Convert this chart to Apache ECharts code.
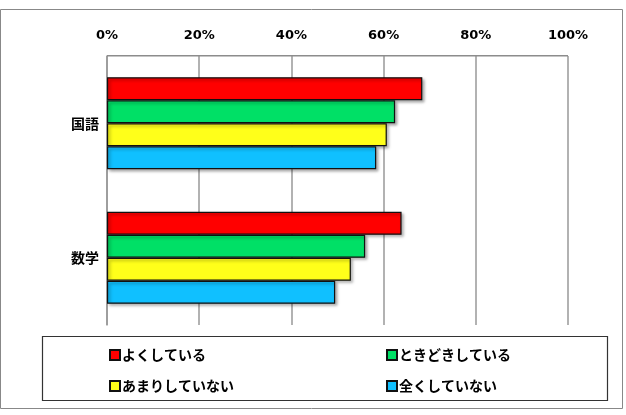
<!DOCTYPE html>
<html><head><meta charset="utf-8">
<script src="https://cdn.jsdelivr.net/npm/echarts@6/dist/echarts.min.js"></script>
<style>html,body{margin:0;padding:0;background:#fff}#c{width:626px;height:415px}</style>
</head><body><div id="c"></div>
<script>
var categories = ['国語', '数学'];
var seriesNames = ['よくしている', 'ときどきしている', 'あまりしていない', '全くしていない'];
var yoku = [68.4, 63.9];
var tokidoki = [62.5, 56.0];
var amari = [60.7, 52.9];
var mattaku = [58.4, 49.5];
var xTicks = [0, 20, 40, 60, 80, 100];
var colors = ['#FF0000', '#00E066', '#FFFF1A', '#10C0FF'];
var values = [yoku, tokidoki, amari, mattaku];

var chart = echarts.init(document.getElementById('c'));
var jp = '"Noto Sans CJK JP", sans-serif';
chart.setOption({
  animation: false,
  grid: {left: 107, right: 58, top: 56, bottom: 90, containLabel: false},
  xAxis: {
    type: 'value', position: 'top', min: xTicks[0], max: xTicks[xTicks.length - 1], interval: 20,
    axisLabel: {formatter: '{value}%', fontWeight: 'bold', fontSize: 13, color: '#000', fontFamily: 'Verdana, "DejaVu Sans", sans-serif', margin: 14},
    axisLine: {show: false}, axisTick: {show: false},
    splitLine: {show: true, lineStyle: {color: '#999', width: 1.5}}
  },
  yAxis: {
    type: 'category', data: categories, inverse: true,
    axisLine: {show: true, lineStyle: {color: '#999', width: 1.5}}, axisTick: {show: false},
    axisLabel: {fontWeight: 'bold', fontSize: 14, color: '#000', fontFamily: jp, margin: 8}
  },
  legend: [
    {left: 104, top: 343, orient: 'vertical', itemGap: 17, itemWidth: 10, itemHeight: 10, icon: 'rect',
     data: [seriesNames[0], seriesNames[2]],
     textStyle: {fontWeight: 'bold', fontSize: 14, color: '#000', fontFamily: jp, padding: [0, 0, 0, -3]}},
    {left: 381, top: 343, orient: 'vertical', itemGap: 17, itemWidth: 10, itemHeight: 10, icon: 'rect',
     data: [seriesNames[1], seriesNames[3]],
     textStyle: {fontWeight: 'bold', fontSize: 14, color: '#000', fontFamily: jp, padding: [0, 0, 0, -3]}}
  ],
  graphic: [
    {type: 'rect', shape: {x: 0.5, y: 9.5, width: 622, height: 399}, style: {fill: 'none', stroke: '#888', lineWidth: 1}, silent: true},
    {type: 'rect', shape: {x: 42.5, y: 336.5, width: 565, height: 64}, style: {fill: 'none', stroke: '#333', lineWidth: 1.2}, silent: true},
    {type: 'rect', z: 10, shape: {x: 107, y: 55, width: 461, height: 1.6}, style: {fill: '#8c8c8c'}, silent: true}
  ],
  series: seriesNames.map(function (n, i) {
    return {
      name: n, type: 'bar', data: values[i], barWidth: 23, barGap: '0%', barCategoryGap: '29%',
      itemStyle: {color: colors[i], borderColor: '#111', borderWidth: 1.2,
        shadowColor: 'rgba(0,0,0,0.35)', shadowBlur: 3, shadowOffsetX: 2, shadowOffsetY: 2}
    };
  })
});
</script></body></html>
